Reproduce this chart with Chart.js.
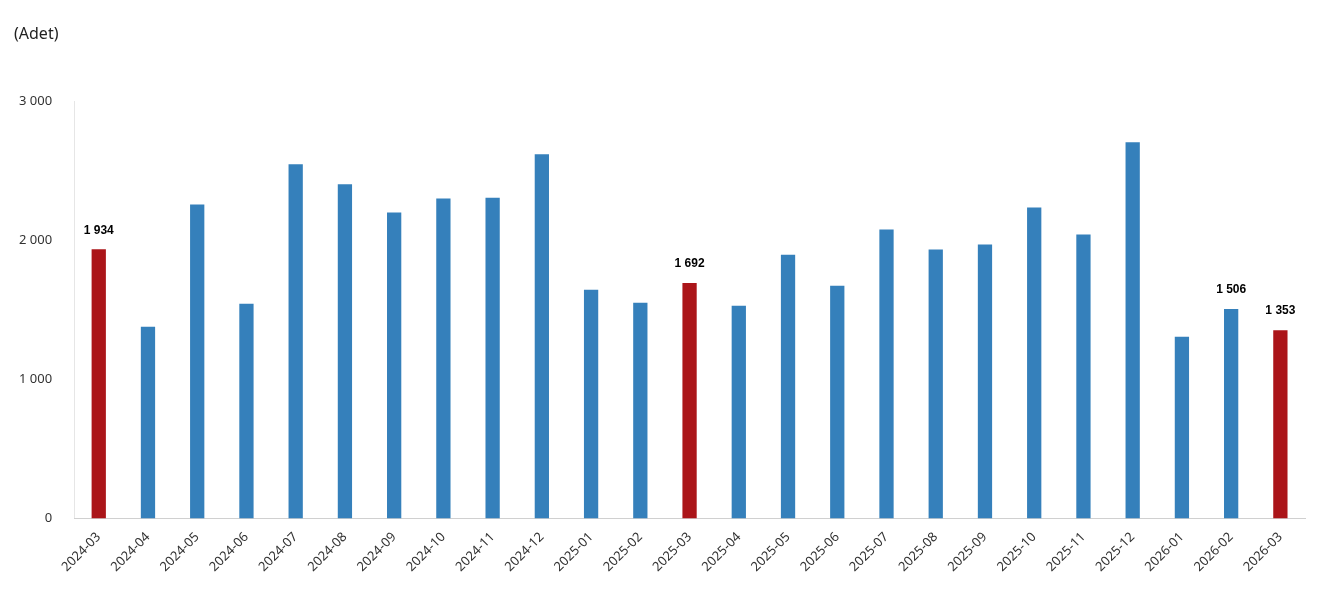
<!DOCTYPE html>
<html>
<head>
<meta charset="utf-8">
<script src="https://cdn.jsdelivr.net/npm/chart.js@4.4.0/dist/chart.umd.min.js"></script>
<style>
  html, body { margin: 0; padding: 0; background: #fff; }
  #wrap { position: relative; width: 1323px; height: 613px; }
  #unit { position: absolute; left: 14px; top: 22px; font: 16px "Noto Sans", sans-serif; color: #222; }
</style>
</head>
<body>
<div id="wrap">
  <div id="unit">(Adet)</div>
  <canvas id="chart" width="1323" height="613"></canvas>
</div>
<script>
const months = ['2024-03','2024-04','2024-05','2024-06','2024-07','2024-08','2024-09','2024-10','2024-11','2024-12',
  '2025-01','2025-02','2025-03','2025-04','2025-05','2025-06','2025-07','2025-08','2025-09','2025-10','2025-11','2025-12',
  '2026-01','2026-02','2026-03'];
const counts = [1934, 1377, 2257, 1543, 2545, 2401, 2199, 2300, 2305, 2617,
  1644, 1550, 1692, 1529, 1896, 1673, 2077, 1932, 1968, 2235, 2040, 2704,
  1305, 1506, 1353];
const highlighted = ['2024-03', '2025-03', '2026-03'];
const labelled = ['2024-03', '2025-03', '2026-02', '2026-03'];

const fmt = v => String(v).replace(/\B(?=(\d{3})+(?!\d))/g, ' ');

// etiketleri çubukların üstüne yaz
const valueLabels = {
  id: 'valueLabels',
  afterDatasetsDraw(chart) {
    const ctx = chart.ctx;
    const meta = chart.getDatasetMeta(0);
    ctx.save();
    ctx.font = 'bold 12px "Liberation Sans", Arial, sans-serif';
    ctx.fillStyle = '#000';
    ctx.textAlign = 'center';
    ctx.textBaseline = 'bottom';
    meta.data.forEach((bar, i) => {
      if (labelled.includes(months[i])) ctx.fillText(fmt(counts[i]), bar.x, bar.y - 13);
    });
    ctx.restore();
  }
};

new Chart(document.getElementById('chart'), {
  type: 'bar',
  data: {
    labels: months,
    datasets: [{
      data: counts,
      backgroundColor: months.map(m => highlighted.includes(m) ? '#ab1519' : '#3580bb'),
      barPercentage: 0.29,
      categoryPercentage: 1
    }]
  },
  options: {
    responsive: false,
    animation: false,
    layout: { padding: { left: 5, right: 18, top: 101, bottom: 35 } },
    plugins: { legend: { display: false }, tooltip: { enabled: false } },
    scales: {
      y: {
        min: 0, max: 3000,
        ticks: { stepSize: 1000, callback: v => fmt(v), color: '#333', padding: 14,
          font: { size: 13, family: '"Noto Sans", sans-serif' } },
        grid: { display: false },
        border: { color: '#e6e6e6' }
      },
      x: {
        ticks: { maxRotation: 45, minRotation: 45, autoSkip: false, color: '#333',
          font: { size: 13, family: '"Noto Sans", sans-serif' } },
        grid: { display: false },
        border: { color: '#d0d0d0' }
      }
    }
  },
  plugins: [valueLabels]
});
</script>
</body>
</html>
